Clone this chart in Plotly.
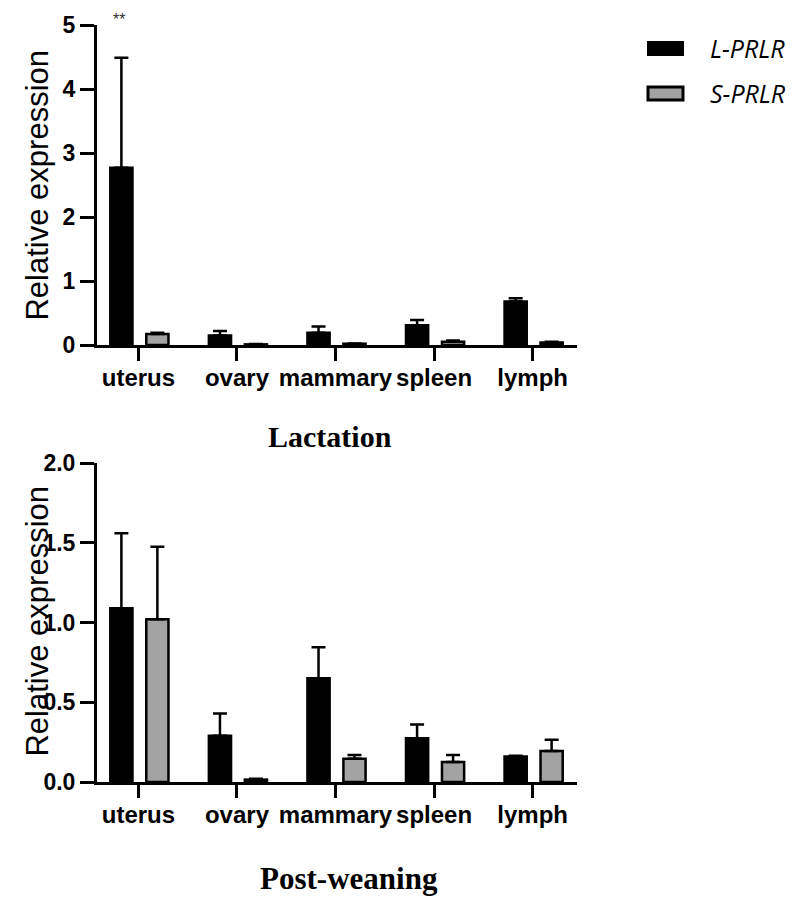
import plotly.graph_objects as go
from plotly.subplots import make_subplots

tissues = ["uterus", "ovary", "mammary", "spleen", "lymph"]

lact_L = [2.77, 0.15, 0.19, 0.31, 0.68]
lact_L_err = [1.72, 0.07, 0.10, 0.08, 0.05]
lact_S = [0.17, 0.01, 0.02, 0.05, 0.04]
lact_S_err = [0.02, 0.005, 0.005, 0.02, 0.01]

post_L = [1.09, 0.29, 0.65, 0.275, 0.16]
post_L_err = [0.47, 0.14, 0.195, 0.085, 0.005]
post_S = [1.02, 0.015, 0.145, 0.125, 0.195]
post_S_err = [0.455, 0.005, 0.025, 0.045, 0.07]

series_names = ["L-PRLR", "S-PRLR"]
lact_ticks = [0, 1, 2, 3, 4, 5]
post_ticks = [0.0, 0.5, 1.0, 1.5, 2.0]

BLACK = "#000000"
GRAY = "#a3a3a3"
BAR_W = 0.225
OFF_L = -0.285
OFF_S = 0.08

fig = make_subplots(rows=2, cols=1, vertical_spacing=0.0)


def add_pair(row, L, Le, S, Se):
    fig.add_trace(go.Bar(
        x=tissues, y=L, name=series_names[0], width=BAR_W, offset=OFF_L,
        marker=dict(color=BLACK, line=dict(color=BLACK, width=2.5)),
        error_y=dict(type="data", array=Le, arrayminus=[0] * len(Le), symmetric=False,
                     color=BLACK, thickness=2.5, width=7),
        showlegend=False), row=row, col=1)
    fig.add_trace(go.Bar(
        x=tissues, y=S, name=series_names[1], width=BAR_W, offset=OFF_S,
        marker=dict(color=GRAY, line=dict(color=BLACK, width=2.5)),
        error_y=dict(type="data", array=Se, arrayminus=[0] * len(Se), symmetric=False,
                     color=BLACK, thickness=2.5, width=7),
        showlegend=False), row=row, col=1)


add_pair(1, lact_L, lact_L_err, lact_S, lact_S_err)
add_pair(2, post_L, post_L_err, post_S, post_S_err)

tickfont = dict(family="Liberation Sans", size=24, color=BLACK, weight="bold")
ytickfont = dict(family="Liberation Sans", size=23, color=BLACK, weight="bold")

xcommon = dict(type="category", range=[-0.42, 4.45], showline=True, linecolor=BLACK,
               linewidth=3, ticks="outside", ticklen=13, tickwidth=2.5, tickcolor=BLACK,
               tickfont=tickfont, showgrid=False, zeroline=False, ticklabelstandoff=-4,
               automargin=False)
ycommon = dict(showline=True, linecolor=BLACK, linewidth=3, ticks="outside", ticklen=14,
               tickwidth=2.5, tickcolor=BLACK, tickfont=ytickfont, showgrid=False,
               zeroline=False, automargin=False)

top_bottom = 1 - 320 / 757
bot_top = 1 - (463 - 25) / 757

# page has an 8px body margin: figure is sized so that the plot area lands at
# x 97..577 and y 25..782 of the 800x905 window
fig.update_layout(
    xaxis=dict(**xcommon, domain=[0, 1]),
    xaxis2=dict(**xcommon, domain=[0, 1]),
    yaxis=dict(**ycommon, range=[0, 5], tickvals=lact_ticks, domain=[top_bottom, 1]),
    yaxis2=dict(**ycommon, range=[0, 2], tickvals=post_ticks, tickformat=".1f",
                domain=[0, bot_top]),
    barmode="overlay",
    width=784, height=889,
    margin=dict(l=89, r=215, t=17, b=115, autoexpand=False),
    paper_bgcolor="white", plot_bgcolor="white",
    showlegend=False,
)

ann = []
for ytitle in [1 - (185 - 25) / 757, 1 - (621 - 25) / 757]:
    ann.append(dict(text="Relative expression", xref="paper", yref="paper",
                    x=-0.126, y=ytitle, textangle=-90, showarrow=False,
                    xanchor="center", yanchor="middle",
                    font=dict(family="Liberation Sans", size=31, color=BLACK)))
ann.append(dict(text="Lactation", xref="paper", yref="paper", x=(330 - 97) / 480,
                y=1 - (436 - 25) / 757, showarrow=False, xanchor="center", yanchor="middle",
                font=dict(family="Liberation Serif", size=30, color=BLACK, weight="bold")))
ann.append(dict(text="Post-weaning", xref="paper", yref="paper", x=(349 - 97) / 480,
                y=1 - (878 - 25) / 757, showarrow=False, xanchor="center", yanchor="middle",
                font=dict(family="Liberation Serif", size=31, color=BLACK, weight="bold")))
ann.append(dict(text="**", xref="x", yref="paper", x=tissues[0], xshift=-19,
                y=1 + 16 / 757, showarrow=False, xanchor="center", yanchor="top",
                font=dict(family="Liberation Sans", size=16, color="#333333")))

# legend drawn manually
leg_x0, leg_x1 = (648 - 97) / 480, (683 - 97) / 480
shapes = [
    dict(type="rect", xref="paper", yref="paper", x0=leg_x0, x1=leg_x1,
         y0=1 - (55 - 25) / 757, y1=1 - (42 - 25) / 757,
         fillcolor=BLACK, line=dict(color=BLACK, width=2)),
    dict(type="rect", xref="paper", yref="paper", x0=leg_x0, x1=leg_x1,
         y0=1 - (100 - 25) / 757, y1=1 - (87 - 25) / 757,
         fillcolor=GRAY, line=dict(color=BLACK, width=3)),
]
for name, yc in zip(series_names, [48, 93]):
    ann.append(dict(text="<i>%s</i>" % name, xref="paper", yref="paper",
                    x=(708 - 97) / 480, y=1 - (yc - 25) / 757, showarrow=False,
                    xanchor="left", yanchor="middle",
                    font=dict(family="Open Sans", size=25, color=BLACK)))

fig.update_layout(annotations=ann, shapes=shapes)
fig.write_html("out.html")
